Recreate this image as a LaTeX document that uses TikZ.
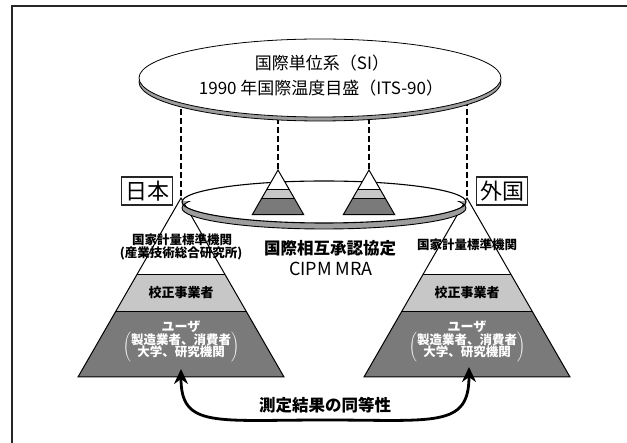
\documentclass[tikz,border=0pt]{standalone}
\usepackage{fontspec}
\setmainfont{Liberation Sans}
\newfontfamily\jp{Noto Sans CJK JP}
\usetikzlibrary{arrows.meta}
\definecolor{lgray}{gray}{0.78}
\definecolor{dgray}{gray}{0.48}
\definecolor{rimgray}{gray}{0.62}
\tikzset{
  x=1pt, y=-1pt,
  txt/.style={inner sep=0pt, align=center, font=\jp},
  lbl/.style={txt, font=\jp\bfseries\fontsize{12.5}{13}\selectfont},
  wlbl/.style={lbl, text=white},
  dashline/.style={line width=1.6pt, dash pattern=on 6pt off 3pt},
  country/.style={txt, draw=black!85, line width=1.4pt, minimum width=51pt, minimum height=28pt, font=\jp\fontsize{22}{22}\selectfont},
  outl/.style={line width=1pt, black},
  pyr/.pic={
    \fill[white] (0,0) -- (-44.3,77) -- (44.3,77) -- cycle;
    \fill[lgray] (-44.3,77) -- (44.3,77) -- (65.6,114) -- (-65.6,114) -- cycle;
    \fill[dgray] (-65.6,114) -- (65.6,114) -- (103,179) -- (-103,179) -- cycle;
    \draw[outl] (-44.3,77) -- (44.3,77) (-65.6,114) -- (65.6,114);
    \draw[outl, line join=miter] (0,0) -- (-103,179) -- (103,179) -- cycle;
  }
}
\begin{document}
\begin{tikzpicture}
\useasboundingbox (0,0) rectangle (627,443);
% frame
\draw[line width=2pt, black!85] (12,443) -- (12,6) -- (627,6);

% apex coordinates
\coordinate (apL) at (181,198);
\coordinate (apR) at (467,198);
\coordinate (smL) at (278,170);
\coordinate (smR) at (369,170);
\coordinate (dL) at (181,100);
\coordinate (dR) at (467,100);
\coordinate (dmL) at (278,100);
\coordinate (dmR) at (369,100);

% dashed links
\draw[dashline] (dL) -- (apL);
\draw[dashline] (dR) -- (apR);
\draw[dashline] (dmL) -- (smL);
\draw[dashline] (dmR) -- (smR);

% top disk
\draw[fill=rimgray, line width=0.8pt] (320,82) ellipse [x radius=181, y radius=39];
\draw[fill=white, line width=0.8pt] (320,78) ellipse [x radius=181, y radius=39];
\node[txt, font=\jp\fontsize{17}{17}\selectfont] (si) at (322,63) {国際単位系（SI）};
\node[txt, font=\jp\fontsize{17}{17}\selectfont] (its) at (321,88) {1990 年国際温度目盛（ITS-90）};

% big pyramids
\pic at (apL) {pyr};
\pic at (apR) {pyr};

% ring
\begin{scope}
  \clip (170,202) rectangle (480,240);
  \fill[rimgray, even odd rule] (324,202) ellipse [x radius=142, y radius=21] (324,208) ellipse [x radius=142, y radius=21];
  \draw[line width=0.9pt] (324,208) ellipse [x radius=142, y radius=21];
\end{scope}
\draw[line width=1.1pt] (324,202) ellipse [x radius=142, y radius=21];

% small pyramids
\pic[scale=0.25] at (smL) {pyr};
\pic[scale=0.25] at (smR) {pyr};

% country labels
\node[country] (jpn) at (147,191) {日本};
\node[country] (frg) at (502,191) {外国};

% pyramid labels left
\node[lbl] (nmiL) at (182,240) {国家計量標準機関};
\node[lbl] (aist) at (181,253) {(産業技術総合研究所)};
\node[lbl, font=\jp\bfseries\fontsize{13}{13}\selectfont] (calL) at (181,293) {校正事業者};
\node[wlbl, font=\jp\bfseries\fontsize{13}{13}\selectfont] (usrL) at (181,327) {ユーザ};
\node[wlbl] (usrLd) at (181,347) {$\left(\vcenter{\hbox{\begin{tabular}{@{}c@{}}製造業者、消費者\\[-2pt]大学、研究機関\end{tabular}}}\right)$};

% pyramid labels right
\node[lbl] (nmiR) at (467,245) {国家計量標準機関};
\node[lbl, font=\jp\bfseries\fontsize{13}{13}\selectfont] (calR) at (467,293) {校正事業者};
\node[wlbl, font=\jp\bfseries\fontsize{13}{13}\selectfont] (usrR) at (467,327) {ユーザ};
\node[wlbl] (usrRd) at (467,347) {$\left(\vcenter{\hbox{\begin{tabular}{@{}c@{}}製造業者、消費者\\[-2pt]大学、研究機関\end{tabular}}}\right)$};

% MRA
\node[txt, font=\jp\bfseries\fontsize{16.5}{16}\selectfont] (mra) at (330,248) {国際相互承認協定};
\node[txt, font=\jp\fontsize{18}{18}\selectfont] (cipm) at (331,269) {CIPM MRA};

% equivalence arrow
\coordinate (tipL) at (181,369);
\coordinate (tipR) at (469,367);
\draw[line width=2.8pt, {Stealth[length=15pt,width=14pt]}-{Stealth[length=15pt,width=14pt]}]
  (tipL) .. controls (181,428) and (215,420) .. (325,420) .. controls (435,420) and (469,428) .. (tipR);
\node[txt, font=\jp\bfseries\fontsize{16.5}{17}\selectfont] (eq) at (325,405) {測定結果の同等性};
\end{tikzpicture}
\end{document}
